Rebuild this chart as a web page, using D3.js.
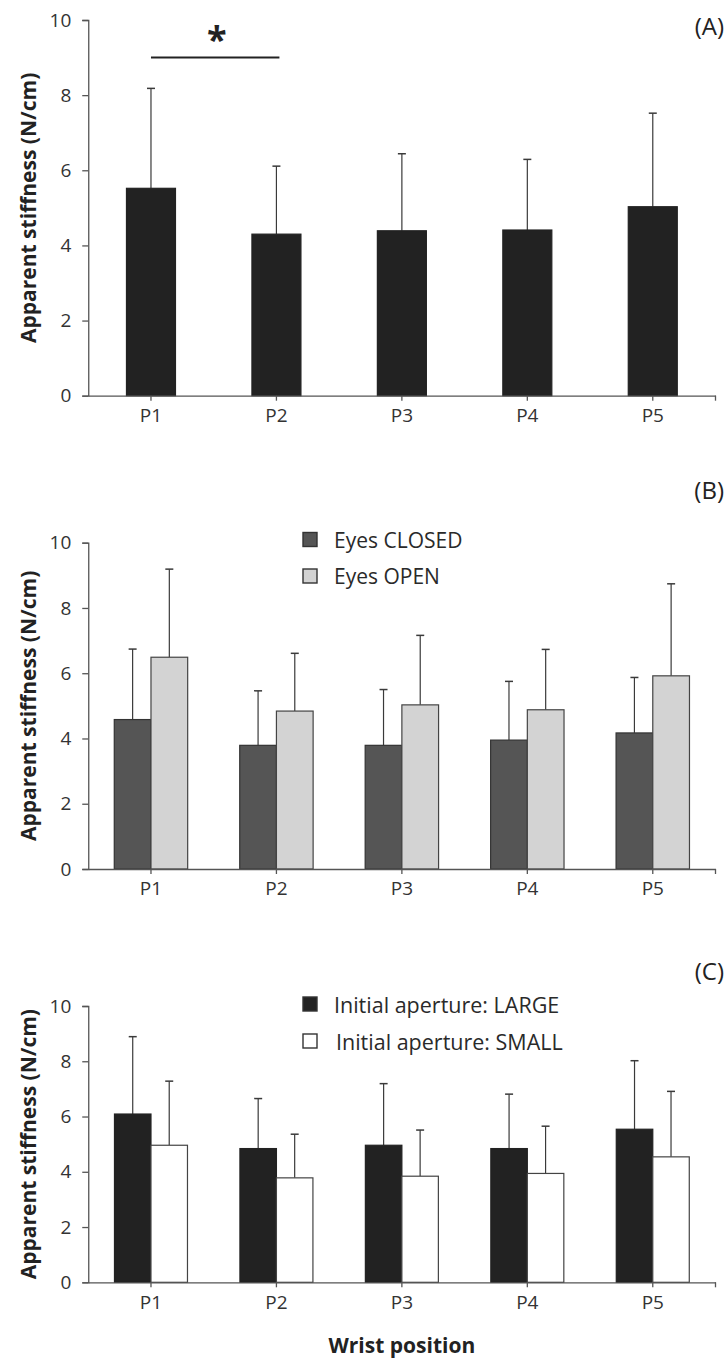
<!DOCTYPE html>
<html>
<head>
<meta charset="utf-8">
<script src="https://cdn.jsdelivr.net/npm/d3@7"></script>
<style>
  body { margin: 0; background: #fff; }
  svg { display: block; font-family: "Open Sans", sans-serif; }
  .tick text { fill: #333; }
</style>
</head>
<body>
<div id="chart"></div>
<script>
// wrist positions and stiffness values (mean, SD)
const positions = ["P1", "P2", "P3", "P4", "P5"];
const yTicks = [0, 2, 4, 6, 8, 10];

// (A) all trials
const meanAll = [5.52, 4.30, 4.39, 4.41, 5.03];
const sdAll = [2.66, 1.81, 2.05, 1.88, 2.49];

// (B) vision
const meanClosed = [4.58, 3.79, 3.79, 3.95, 4.17];
const sdClosed = [2.16, 1.67, 1.71, 1.80, 1.70];
const meanOpen = [6.49, 4.84, 5.03, 4.88, 5.92];
const sdOpen = [2.70, 1.77, 2.13, 1.85, 2.82];

// (C) initial aperture
const meanLarge = [6.09, 4.84, 4.96, 4.84, 5.54];
const sdLarge = [2.80, 1.81, 2.23, 1.97, 2.48];
const meanSmall = [4.96, 3.78, 3.84, 3.94, 4.54];
const sdSmall = [2.32, 1.58, 1.67, 1.71, 2.37];

const width = 725, height = 1359;
const svg = d3.select("#chart").append("svg")
    .attr("width", width)
    .attr("height", height);

const x = d3.scaleBand()
    .domain(positions)
    .range([88.25, 715.5]);

// one panel: axes + bars
function panel(top, bottom, label, labelY, series, barW) {
    const g = svg.append("g");
    const y = d3.scaleLinear().domain([0, 10]).range([bottom, top]);

    // bars
    series.forEach((s, si) => {
        const off = series.length === 1 ? -barW / 2 : (si === 0 ? -barW : 0);
        const rows = positions.map((p, i) => ({ p: p, m: s.mean[i], sd: s.sd[i] }));

        // error bars (upper only)
        g.selectAll(null).data(rows).enter().append("line")
            .attr("x1", d => x(d.p) + x.bandwidth() / 2 + off + barW / 2)
            .attr("x2", d => x(d.p) + x.bandwidth() / 2 + off + barW / 2)
            .attr("y1", d => y(d.m))
            .attr("y2", d => y(d.m + d.sd))
            .attr("stroke", "#3a3a3a")
            .attr("stroke-width", 1.2);
        g.selectAll(null).data(rows).enter().append("line")
            .attr("x1", d => x(d.p) + x.bandwidth() / 2 + off + barW / 2 - 4)
            .attr("x2", d => x(d.p) + x.bandwidth() / 2 + off + barW / 2 + 4)
            .attr("y1", d => y(d.m + d.sd))
            .attr("y2", d => y(d.m + d.sd))
            .attr("stroke", "#3a3a3a")
            .attr("stroke-width", 1.5);

        g.selectAll(null).data(rows).enter().append("rect")
            .attr("x", d => x(d.p) + x.bandwidth() / 2 + off)
            .attr("y", d => y(d.m))
            .attr("width", barW)
            .attr("height", d => bottom - y(d.m))
            .attr("fill", s.fill)
            .attr("stroke", s.stroke)
            .attr("stroke-width", 1.2);
    });

    // y axis
    const ya = g.append("g")
        .attr("transform", `translate(${x.range()[0]},0)`)
        .call(d3.axisLeft(y).tickValues(yTicks).tickSize(6).tickPadding(11));
    ya.select(".domain").attr("stroke", "#555").attr("stroke-width", 1.3);
    ya.selectAll(".tick line").attr("stroke", "#555").attr("stroke-width", 1.3);
    ya.selectAll(".tick text").attr("font-size", 19).attr("font-family", "Open Sans");

    // x axis
    const xa = g.append("g")
        .attr("transform", `translate(0,${bottom})`)
        .call(d3.axisBottom(x).tickSize(5).tickSizeOuter(0).tickPadding(8));
    xa.select(".domain").attr("stroke", "#555").attr("stroke-width", 1.3);
    xa.selectAll(".tick line").attr("stroke", "#555").attr("stroke-width", 1.3);
    xa.selectAll(".tick text").attr("font-size", 19).attr("font-family", "Open Sans");
    xa.append("line")
        .attr("x1", x.range()[1]).attr("x2", x.range()[1])
        .attr("y1", 0).attr("y2", 5)
        .attr("stroke", "#555").attr("stroke-width", 1.3);

    // y label
    g.append("text")
        .attr("transform", `translate(36,${(top + bottom) / 2}) rotate(-90)`)
        .attr("text-anchor", "middle")
        .attr("font-size", 21)
        .attr("font-weight", "bold")
        .attr("fill", "#222")
        .text("Apparent stiffness (N/cm)");

    // panel letter
    g.append("text")
        .attr("x", 724).attr("y", labelY)
        .attr("text-anchor", "end")
        .attr("dominant-baseline", "central")
        .attr("font-size", 24)
        .attr("fill", "#222")
        .text(label);

    return { g: g, y: y };
}

// legend (squares + text)
function legend(g, items, x0, ys, fs) {
    items.forEach((it, i) => {
        g.append("rect")
            .attr("x", x0).attr("y", ys[i] - 7)
            .attr("width", 14).attr("height", 14)
            .attr("fill", it.fill)
            .attr("stroke", "#333")
            .attr("stroke-width", 1.4);
        g.append("text")
            .attr("x", x0 + 31 + (it.dx || 0)).attr("y", ys[i])
            .attr("dominant-baseline", "central")
            .attr("font-size", fs)
            .attr("fill", "#2a2a2a")
            .text(it.name);
    });
}

// ---- (A)
const pA = panel(20, 395.7, "(A)", 25,
    [{ mean: meanAll, sd: sdAll, fill: "#222", stroke: "#222" }], 49);

// significance bar P1-P2
pA.g.append("line")
    .attr("x1", x("P1") + x.bandwidth() / 2)
    .attr("x2", x("P2") + x.bandwidth() / 2 + 3)
    .attr("y1", pA.y(9)).attr("y2", pA.y(9))
    .attr("stroke", "#222").attr("stroke-width", 2);
pA.g.append("text")
    .attr("x", (x("P1") + x("P2")) / 2 + x.bandwidth() / 2 + 3)
    .attr("y", 52)
    .attr("text-anchor", "middle")
    .attr("font-size", 36)
    .attr("font-weight", "bold")
    .attr("fill", "#222")
    .text("*");

// ---- (B)
const pB = panel(542.7, 869, "(B)", 489,
    [{ mean: meanClosed, sd: sdClosed, fill: "#555", stroke: "#333" },
     { mean: meanOpen, sd: sdOpen, fill: "#d3d3d3", stroke: "#444" }], 36.7);
legend(pB.g, [{ name: "Eyes CLOSED", fill: "#555" },
              { name: "Eyes OPEN", fill: "#d3d3d3" }], 303, [539.5, 576], 21);

// ---- (C)
const pC = panel(1006, 1282.3, "(C)", 970,
    [{ mean: meanLarge, sd: sdLarge, fill: "#222", stroke: "#222" },
     { mean: meanSmall, sd: sdSmall, fill: "#fff", stroke: "#444" }], 36.5);
legend(pC.g, [{ name: "Initial aperture: LARGE", fill: "#222" },
              { name: "Initial aperture: SMALL", fill: "#fff", dx: 2 }], 303, [1004, 1041], 21.5);

svg.append("text")
    .attr("x", x("P3") + x.bandwidth() / 2)
    .attr("y", 1345)
    .attr("text-anchor", "middle")
    .attr("dominant-baseline", "central")
    .attr("font-size", 21)
    .attr("font-weight", "bold")
    .attr("fill", "#222")
    .text("Wrist position");
</script>
</body>
</html>
